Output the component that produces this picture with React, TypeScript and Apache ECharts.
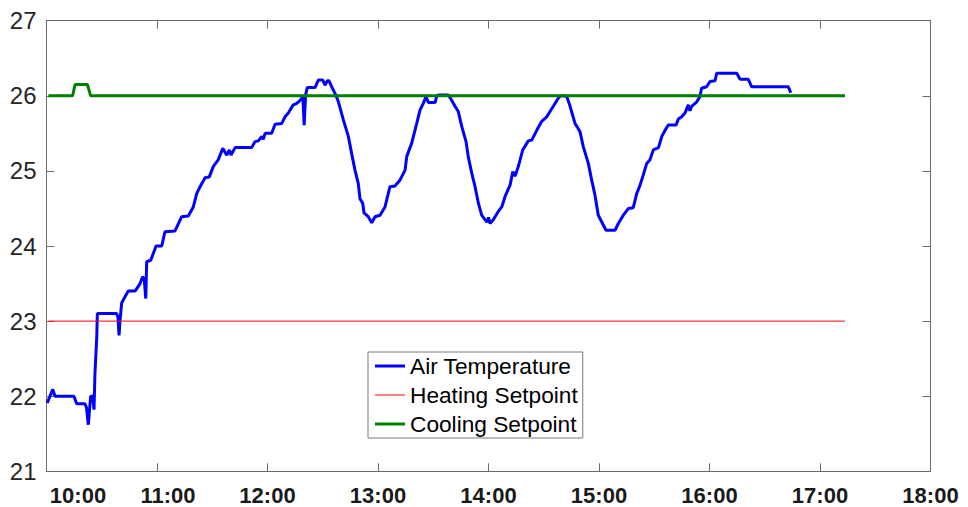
import React, { useEffect, useRef } from "react";
import * as echarts from "echarts";

// Time in minutes since midnight, temperature in °C
const airMinutes = [
  600.4, 603.4, 604.6, 614.9, 616.4, 620.9, 621.7, 622.7, 624.0, 625.1, 625.8, 626.3, 627.3, 627.6,
  638.1, 638.8, 639.4, 639.9, 640.8, 642.1, 644.4, 648.1, 650.8, 652.2, 653.1, 653.9, 654.4, 656.6,
  659.5, 662.6, 664.3, 669.8, 673.4, 677.0, 679.7, 681.6, 683.4, 686.1, 688.4, 690.6, 693.3, 695.7,
  697.9, 699.3, 700.2, 702.4, 711.4, 713.2, 715.0, 716.9, 717.7, 718.7, 722.3, 724.1, 727.7, 729.5,
  731.3, 734.0, 735.9, 737.7, 739.2, 739.9, 740.7, 741.6, 745.8, 747.6, 750.0, 751.2, 752.5, 753.4,
  754.9, 756.7, 758.5, 761.2, 763.9, 765.7, 767.5, 769.3, 770.2, 771.7, 772.4, 774.7, 776.6, 778.4,
  781.1, 783.8, 786.5, 789.2, 792.0, 794.7, 795.6, 798.3, 801.0, 802.8, 804.6, 806.1, 807.3, 811.0,
  811.9, 812.8, 818.2, 820.0, 821.8, 823.6, 825.5, 827.8, 829.0, 830.9, 832.7, 834.5, 836.3, 838.1,
  839.2, 840.0, 840.8, 842.6, 845.3, 847.2, 849.0, 851.7, 853.2, 854.4, 856.2, 858.6, 861.6, 863.5,
  866.2, 868.9, 871.6, 873.4, 875.2, 876.7, 878.5, 879.8, 881.0, 882.5, 884.3, 887.0, 889.7, 891.5,
  894.2, 896.0, 897.8, 899.6, 901.5, 903.8, 908.7, 910.5, 913.2, 916.0, 918.6, 920.5, 922.3, 924.1,
  925.9, 927.7, 929.5, 932.3, 934.1, 935.9, 937.6, 941.8, 943.1, 944.9, 946.7, 948.5, 949.4, 950.3,
  953.1, 954.8, 955.7, 958.4, 960.3, 963.0, 963.9, 974.8, 976.6, 981.1, 982.9, 1002.8, 1004.1,
];
const airTemp = [
  21.91, 22.09, 22.0, 22.0, 21.9, 21.9, 21.85, 21.62, 22.0, 22.0, 21.82, 22.3, 22.79, 23.1,
  23.1, 23.05, 22.81, 23.0, 23.24, 23.3, 23.4, 23.4, 23.5, 23.59, 23.55, 23.3, 23.79, 23.81,
  24.0, 24.0, 24.19, 24.2, 24.39, 24.4, 24.52, 24.7, 24.79, 24.91, 24.92, 25.06, 25.15, 25.3,
  25.21, 25.28, 25.21, 25.31, 25.31, 25.39, 25.4, 25.46, 25.42, 25.5, 25.5, 25.62, 25.63, 25.72,
  25.77, 25.88, 25.9, 25.94, 25.99, 25.61, 26.01, 26.11, 26.11, 26.21, 26.21, 26.14, 26.2, 26.2,
  26.12, 26.03, 25.92, 25.68, 25.46, 25.23, 25.01, 24.83, 24.63, 24.57, 24.44, 24.39, 24.31, 24.39,
  24.41, 24.52, 24.79, 24.8, 24.88, 25.01, 25.19, 25.37, 25.63, 25.81, 25.9, 25.99, 25.91, 25.91,
  26.0, 26.01, 26.01, 25.94, 25.86, 25.79, 25.59, 25.39, 25.19, 24.97, 24.79, 24.57, 24.41, 24.35,
  24.32, 24.38, 24.3, 24.35, 24.46, 24.52, 24.66, 24.81, 24.99, 24.93, 25.06, 25.28, 25.4, 25.41,
  25.54, 25.66, 25.72, 25.79, 25.86, 25.92, 25.99, 26.0, 26.0, 25.99, 25.86, 25.63, 25.52, 25.32,
  25.1, 24.88, 24.68, 24.41, 24.32, 24.21, 24.21, 24.3, 24.41, 24.5, 24.51, 24.7, 24.81, 24.95,
  25.1, 25.15, 25.28, 25.31, 25.46, 25.54, 25.61, 25.61, 25.69, 25.72, 25.77, 25.88, 25.8, 25.86,
  25.92, 25.99, 26.1, 26.12, 26.19, 26.2, 26.3, 26.3, 26.22, 26.22, 26.12, 26.12, 26.04,
];

const heatingMinutes = [601, 1033.6];
const heatingValues = [23, 23];

const coolingMinutes = [601, 614.2, 615.5, 622.2, 624.0, 1033.6];
const coolingValues = [26, 26, 26.15, 26.15, 26, 26];

const xTickHours = [10, 11, 12, 13, 14, 15, 16, 17, 18];
const yTicks = [21, 22, 23, 24, 25, 26, 27];

const zip = (xs: number[], ys: number[]) => xs.map((x, i) => [x, ys[i]]);

export default function App() {
  const ref = useRef<HTMLDivElement>(null);

  useEffect(() => {
    if (!ref.current) return;
    const chart = echarts.init(ref.current, null, { renderer: "svg" });
    const axisColor = "#6b6b6b";
    const font = "Liberation Sans, Arial, sans-serif";
    const xMin = xTickHours[0] * 60;
    const xMax = xTickHours[xTickHours.length - 1] * 60;
    const yMin = yTicks[0];
    const yMax = yTicks[yTicks.length - 1];

    chart.setOption({
      animation: false,
      backgroundColor: "#ffffff",
      grid: { left: 46.5, right: 37.5, top: 20.7, bottom: 35.7, containLabel: false },
      legend: {
        orient: "vertical",
        left: 368,
        top: 352,
        padding: [2, 5, 2, 7],
        itemGap: 5,
        itemWidth: 30,
        itemHeight: 14,
        backgroundColor: "#ffffff",
        borderColor: "#7a7a7a",
        borderWidth: 1,
        borderRadius: 0,
        textStyle: {
          fontFamily: font,
          fontSize: 22.7,
          lineHeight: 24,
          color: "#000000",
        },
        data: [
          { name: "Air Temperature", icon: "path://M0,0H30V3H0Z" },
          { name: "Heating Setpoint", icon: "path://M0,0H30V1H0Z" },
          { name: "Cooling Setpoint", icon: "path://M0,0H30V3H0Z" },
        ],
      },
      xAxis: [
        {
          type: "value",
          min: xMin,
          max: xMax,
          interval: 60,
          position: "bottom",
          axisLine: { show: true, lineStyle: { color: axisColor, width: 1 } },
          axisTick: { show: true, inside: true, length: 8, lineStyle: { color: axisColor } },
          splitLine: { show: false },
          axisLabel: {
            show: true,
            margin: 13,
            showMinLabel: true,
            showMaxLabel: true,
            fontFamily: font,
            fontSize: 22,
            fontWeight: "bold",
            color: "#1a1a1a",
            formatter: (v: number) => {
              const h = Math.round(v / 60);
              const t = `${h}:00`;
              if (h === 10) return `{s0|${t}}`;
              if (h === 11) return `{s1|${t}}`;
              return t;
            },
            rich: {
              s0: { padding: [0, 0, 0, 63], fontFamily: font, fontSize: 22, fontWeight: "bold", color: "#1a1a1a" },
              s1: { padding: [0, 0, 0, 22], fontFamily: font, fontSize: 22, fontWeight: "bold", color: "#1a1a1a" },
            },
          },
        },
        {
          type: "value",
          min: xMin,
          max: xMax,
          interval: 60,
          position: "top",
          axisLine: { show: true, lineStyle: { color: axisColor, width: 1 } },
          axisTick: { show: true, inside: true, length: 8, lineStyle: { color: axisColor } },
          splitLine: { show: false },
          axisLabel: { show: false },
        },
      ],
      yAxis: [
        {
          type: "value",
          min: yMin,
          max: yMax,
          interval: 1,
          position: "left",
          axisLine: { show: true, lineStyle: { color: axisColor, width: 1 } },
          axisTick: { show: true, inside: true, length: 8, lineStyle: { color: axisColor } },
          splitLine: { show: false },
          axisLabel: { margin: 10, fontFamily: font, fontSize: 24, color: "#262626" },
        },
        {
          type: "value",
          min: yMin,
          max: yMax,
          interval: 1,
          position: "right",
          axisLine: { show: true, lineStyle: { color: axisColor, width: 1 } },
          axisTick: { show: true, inside: true, length: 8, lineStyle: { color: axisColor } },
          splitLine: { show: false },
          axisLabel: { show: false },
        },
      ],
      series: [
        {
          name: "Air Temperature",
          type: "line",
          color: "#0000ff",
          data: zip(airMinutes, airTemp),
          showSymbol: false,
          symbol: "none",
          lineStyle: { color: "#0000ff", width: 3 },
        },
        {
          name: "Heating Setpoint",
          type: "line",
          color: "#ff0000",
          data: zip(heatingMinutes, heatingValues),
          showSymbol: false,
          symbol: "none",
          lineStyle: { color: "#ff0000", width: 1 },
        },
        {
          name: "Cooling Setpoint",
          type: "line",
          color: "#008000",
          data: zip(coolingMinutes, coolingValues),
          showSymbol: false,
          symbol: "none",
          lineStyle: { color: "#008000", width: 3 },
        },
      ],
    });

    return () => chart.dispose();
  }, []);

  return (
    <div
      ref={ref}
      style={{ position: "absolute", left: 0, top: 0, width: 968, height: 507, background: "#fff" }}
    />
  );
}
